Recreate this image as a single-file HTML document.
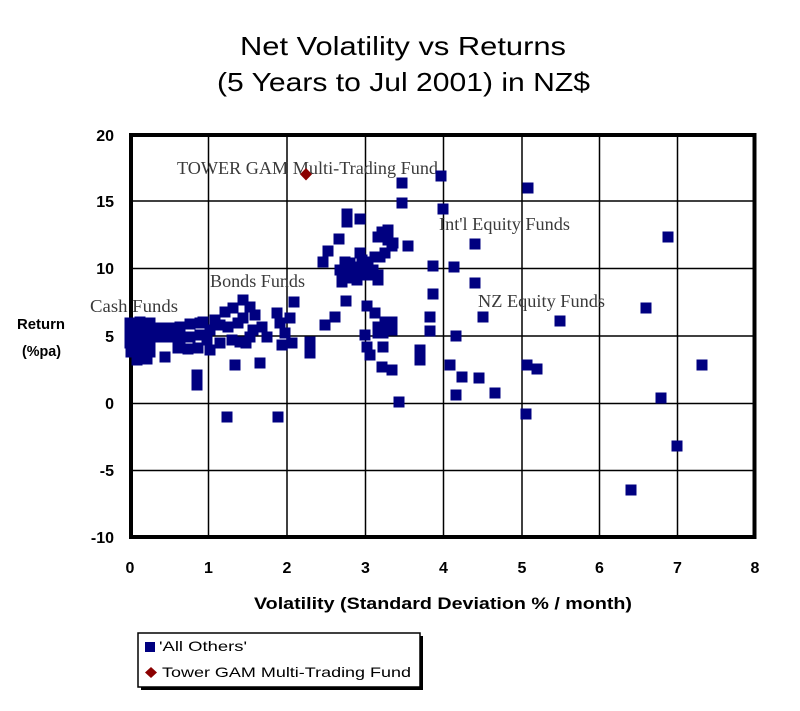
<!DOCTYPE html>
<html>
<head>
<meta charset="utf-8">
<style>
html,body{margin:0;padding:0;background:#fff;}
svg{display:block;}
</style>
</head>
<body>
<svg width="800" height="711" viewBox="0 0 800 711" xmlns="http://www.w3.org/2000/svg">
<defs>
<rect id="s" x="-5.5" y="-5.5" width="11" height="11" fill="#000080"/>
</defs>
<rect width="800" height="711" fill="#fff"/>

<!-- Title -->
<g font-family="Liberation Sans, Arial, sans-serif" fill="#000">
<text x="240" y="55" font-size="26" textLength="326" lengthAdjust="spacingAndGlyphs">Net Volatility vs Returns</text>
<text x="217" y="91" font-size="26" textLength="373" lengthAdjust="spacingAndGlyphs">(5 Years to Jul 2001) in NZ$</text>
</g>

<!-- Gridlines -->
<g stroke="#000" stroke-width="1.5">
<line x1="208.5" y1="135" x2="208.5" y2="537"/>
<line x1="287" y1="135" x2="287" y2="537"/>
<line x1="365.5" y1="135" x2="365.5" y2="537"/>
<line x1="443.5" y1="135" x2="443.5" y2="537"/>
<line x1="522" y1="135" x2="522" y2="537"/>
<line x1="599.5" y1="135" x2="599.5" y2="537"/>
<line x1="677.5" y1="135" x2="677.5" y2="537"/>
<line x1="131" y1="201" x2="754.5" y2="201"/>
<line x1="131" y1="268.5" x2="754.5" y2="268.5"/>
<line x1="131" y1="336" x2="754.5" y2="336"/>
<line x1="131" y1="403.5" x2="754.5" y2="403.5"/>
<line x1="131" y1="470.5" x2="754.5" y2="470.5"/>
</g>
<rect x="131" y="135" width="623.5" height="402" fill="none" stroke="#000" stroke-width="4"/>

<!-- Y tick labels -->
<g font-family="Liberation Sans, Arial, sans-serif" font-weight="bold" font-size="16" text-anchor="end" fill="#000">
<text x="114" y="141">20</text>
<text x="114" y="207">15</text>
<text x="114" y="274">10</text>
<text x="114" y="342">5</text>
<text x="114" y="409">0</text>
<text x="114" y="476">-5</text>
<text x="114" y="543">-10</text>
</g>
<!-- X tick labels -->
<g font-family="Liberation Sans, Arial, sans-serif" font-weight="bold" font-size="16" text-anchor="middle" fill="#000">
<text x="130" y="573">0</text>
<text x="208.5" y="573">1</text>
<text x="287" y="573">2</text>
<text x="365.5" y="573">3</text>
<text x="443.5" y="573">4</text>
<text x="522" y="573">5</text>
<text x="599.5" y="573">6</text>
<text x="677.5" y="573">7</text>
<text x="755" y="573">8</text>
</g>

<!-- Axis titles -->
<g font-family="Liberation Sans, Arial, sans-serif" font-weight="bold" fill="#000">
<text x="254" y="609" font-size="17" textLength="378" lengthAdjust="spacingAndGlyphs">Volatility (Standard Deviation % / month)</text>
<text x="17" y="329" font-size="15" textLength="48" lengthAdjust="spacingAndGlyphs">Return</text>
<text x="22" y="356" font-size="15" textLength="39" lengthAdjust="spacingAndGlyphs">(%pa)</text>
</g>

<!-- Annotations -->
<g font-family="Liberation Serif, Times New Roman, serif" font-size="18" fill="#3a3a3a">
<text x="177" y="174" textLength="261" lengthAdjust="spacingAndGlyphs">TOWER GAM Multi-Trading Fund</text>
<text x="90" y="312" textLength="88" lengthAdjust="spacingAndGlyphs">Cash Funds</text>
<text x="210" y="287" textLength="95" lengthAdjust="spacingAndGlyphs">Bonds Funds</text>
<text x="439" y="230" textLength="131" lengthAdjust="spacingAndGlyphs">Int'l Equity Funds</text>
<text x="478" y="307" textLength="127" lengthAdjust="spacingAndGlyphs">NZ Equity Funds</text>
</g>

<!-- Data: All Others -->
<g>
<!-- right region -->
<use href="#s" x="402" y="183"/><use href="#s" x="441" y="176"/><use href="#s" x="528" y="188"/>
<use href="#s" x="402" y="203"/><use href="#s" x="443" y="209"/><use href="#s" x="475" y="244"/>
<use href="#s" x="668" y="237"/><use href="#s" x="408" y="246"/><use href="#s" x="433" y="266"/>
<use href="#s" x="454" y="267"/><use href="#s" x="475" y="283"/><use href="#s" x="433" y="294"/>
<use href="#s" x="430" y="317"/><use href="#s" x="483" y="317"/><use href="#s" x="560" y="321"/>
<use href="#s" x="646" y="308"/><use href="#s" x="430" y="331"/><use href="#s" x="456" y="336"/>
<use href="#s" x="420" y="350"/><use href="#s" x="420" y="360"/><use href="#s" x="450" y="365"/>
<use href="#s" x="462" y="377"/><use href="#s" x="479" y="378"/><use href="#s" x="527" y="365"/>
<use href="#s" x="537" y="369"/><use href="#s" x="702" y="365"/><use href="#s" x="456" y="395"/>
<use href="#s" x="495" y="393"/><use href="#s" x="399" y="402"/><use href="#s" x="661" y="398"/>
<use href="#s" x="526" y="414"/><use href="#s" x="227" y="417"/><use href="#s" x="278" y="417"/>
<use href="#s" x="677" y="446"/><use href="#s" x="631" y="490"/><use href="#s" x="382" y="367"/>
<use href="#s" x="392" y="370"/>
<!-- middle cluster -->
<use href="#s" x="323" y="262"/><use href="#s" x="328" y="251"/><use href="#s" x="339" y="239"/>
<use href="#s" x="347" y="214"/><use href="#s" x="347" y="222"/><use href="#s" x="360" y="219"/>
<use href="#s" x="382" y="232"/><use href="#s" x="388" y="230"/><use href="#s" x="388" y="240"/>
<use href="#s" x="378" y="237"/><use href="#s" x="393" y="243"/><use href="#s" x="392" y="246"/>
<use href="#s" x="385" y="253"/><use href="#s" x="380" y="257"/><use href="#s" x="360" y="253"/>
<use href="#s" x="345" y="262"/><use href="#s" x="350" y="263"/><use href="#s" x="362" y="260"/>
<use href="#s" x="368" y="262"/><use href="#s" x="375" y="257"/><use href="#s" x="340" y="270"/>
<use href="#s" x="347" y="270"/><use href="#s" x="353" y="268"/><use href="#s" x="360" y="267"/>
<use href="#s" x="367" y="268"/><use href="#s" x="373" y="270"/><use href="#s" x="342" y="278"/>
<use href="#s" x="348" y="278"/><use href="#s" x="358" y="275"/><use href="#s" x="367" y="275"/>
<use href="#s" x="378" y="275"/><use href="#s" x="342" y="282"/><use href="#s" x="357" y="280"/>
<use href="#s" x="378" y="280"/><use href="#s" x="346" y="301"/><use href="#s" x="367" y="306"/>
<use href="#s" x="375" y="313"/><use href="#s" x="385" y="322"/><use href="#s" x="392" y="322"/>
<use href="#s" x="378" y="327"/><use href="#s" x="387" y="328"/><use href="#s" x="392" y="330"/>
<use href="#s" x="378" y="333"/><use href="#s" x="383" y="333"/><use href="#s" x="365" y="335"/>
<use href="#s" x="367" y="347"/><use href="#s" x="383" y="347"/><use href="#s" x="370" y="355"/>
<use href="#s" x="335" y="317"/><use href="#s" x="325" y="325"/>
<!-- bonds -->
<use href="#s" x="294" y="302"/><use href="#s" x="310" y="342"/><use href="#s" x="310" y="353"/>
<use href="#s" x="243" y="300"/><use href="#s" x="225" y="312"/><use href="#s" x="233" y="308"/>
<use href="#s" x="250" y="307"/><use href="#s" x="255" y="315"/><use href="#s" x="243" y="318"/>
<use href="#s" x="215" y="320"/><use href="#s" x="203" y="322"/><use href="#s" x="220" y="325"/>
<use href="#s" x="210" y="330"/><use href="#s" x="228" y="327"/><use href="#s" x="238" y="323"/>
<use href="#s" x="253" y="330"/><use href="#s" x="262" y="327"/><use href="#s" x="250" y="337"/>
<use href="#s" x="267" y="337"/><use href="#s" x="277" y="313"/><use href="#s" x="280" y="323"/>
<use href="#s" x="285" y="333"/><use href="#s" x="282" y="345"/><use href="#s" x="292" y="343"/>
<use href="#s" x="210" y="350"/><use href="#s" x="235" y="365"/><use href="#s" x="260" y="363"/>
<use href="#s" x="290" y="318"/><use href="#s" x="207" y="340"/><use href="#s" x="220" y="343"/>
<use href="#s" x="232" y="340"/><use href="#s" x="240" y="342"/><use href="#s" x="246" y="343"/>
<!-- cash blob -->
<use href="#s" x="130" y="323"/><use href="#s" x="140" y="322"/><use href="#s" x="150" y="323"/>
<use href="#s" x="130" y="333"/><use href="#s" x="140" y="333"/><use href="#s" x="150" y="333"/>
<use href="#s" x="130" y="343"/><use href="#s" x="140" y="343"/><use href="#s" x="150" y="343"/>
<use href="#s" x="131" y="352"/><use href="#s" x="140" y="353"/><use href="#s" x="150" y="352"/>
<use href="#s" x="137" y="360"/><use href="#s" x="147" y="359"/>
<use href="#s" x="160" y="328"/><use href="#s" x="170" y="328"/><use href="#s" x="180" y="327"/>
<use href="#s" x="190" y="324"/><use href="#s" x="200" y="323"/><use href="#s" x="160" y="337"/>
<use href="#s" x="170" y="337"/><use href="#s" x="180" y="338"/><use href="#s" x="190" y="337"/>
<use href="#s" x="200" y="335"/><use href="#s" x="178" y="348"/><use href="#s" x="188" y="349"/>
<use href="#s" x="198" y="348"/>
<use href="#s" x="165" y="357"/><use href="#s" x="197" y="375"/><use href="#s" x="197" y="385"/>
</g>

<!-- Tower GAM diamond -->
<polygon points="306,168 312,174.3 306,180.5 300,174.3" fill="#8B0000"/>

<!-- Legend -->
<rect x="141" y="636" width="282" height="54" fill="#000"/>
<rect x="138" y="633" width="282" height="54" fill="#fff" stroke="#000" stroke-width="1.5"/>
<rect x="145" y="642" width="10" height="10" fill="#000080"/>
<polygon points="151,667 157,672.5 151,678 145,672.5" fill="#8B0000"/>
<g font-family="Liberation Sans, Arial, sans-serif" font-size="14" fill="#000">
<text x="159" y="651" textLength="88" lengthAdjust="spacingAndGlyphs">'All Others'</text>
<text x="162" y="677" textLength="249" lengthAdjust="spacingAndGlyphs">Tower GAM Multi-Trading Fund</text>
</g>
</svg>
</body>
</html>
